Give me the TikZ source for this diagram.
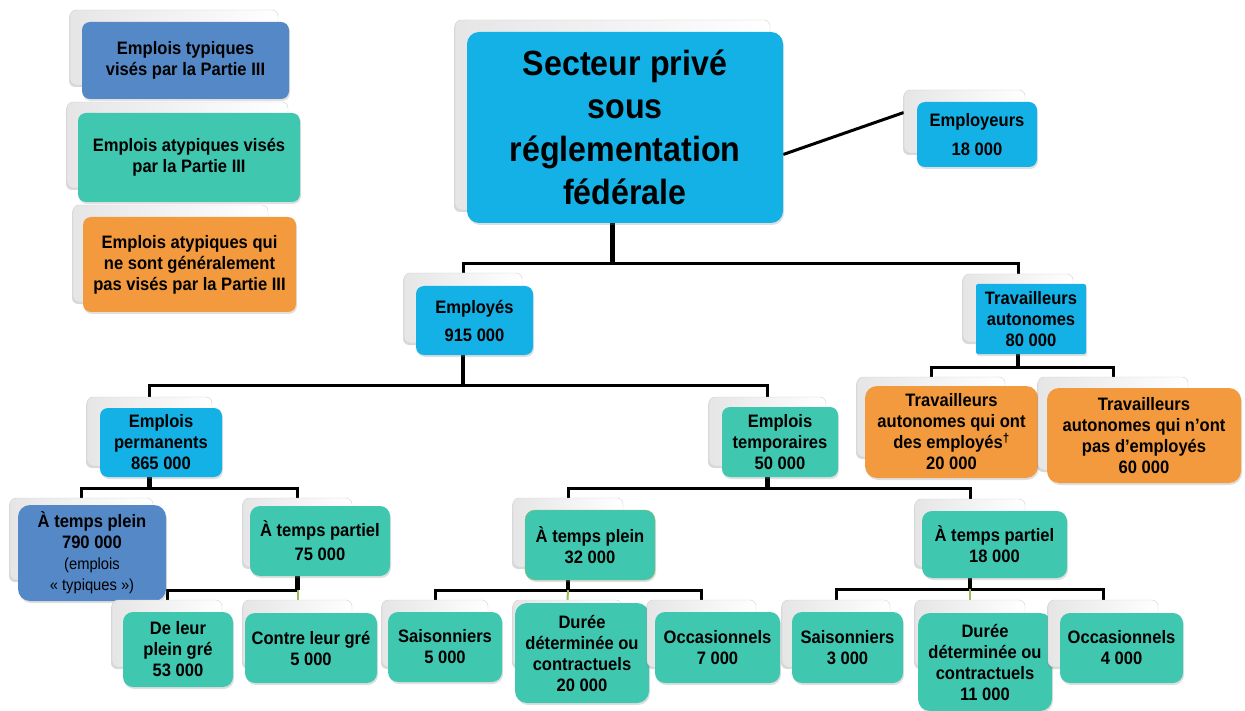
\documentclass[tikz,border=0pt]{standalone}
\usepackage{fontspec}
\setmainfont{Liberation Sans}[FakeStretch=0.92]
\usetikzlibrary{shadows,backgrounds}
\definecolor{cyanbox}{HTML}{14B1E7}
\definecolor{bluebox}{HTML}{5588C6}
\definecolor{tealbox}{HTML}{40C7B0}
\definecolor{orangebox}{HTML}{F29A3D}
\definecolor{stubgreen}{HTML}{9BBB59}
\newcommand{\smallreg}{\mdseries\fontsize{16}{18}\selectfont}
\begin{document}
\begin{tikzpicture}[x=1pt,y=-1pt,align=center]
\tikzstyle{back}=[rectangle,rounded corners=6pt,draw=black!18,left color=black!10,right color=white,drop shadow={opacity=0.3,shadow xshift=-1pt,shadow yshift=-2pt}]
\tikzstyle{card}=[rectangle,rounded corners=8pt,inner sep=2pt,font=\bfseries\fontsize{18}{21}\selectfont,drop shadow={opacity=0.25,shadow xshift=1pt,shadow yshift=-2pt}]
\tikzstyle{cyancard}=[card,fill=cyanbox]
\tikzstyle{bluecard}=[card,fill=bluebox]
\tikzstyle{tealcard}=[card,fill=tealbox]
\tikzstyle{orangecard}=[card,fill=orangebox]
\tikzstyle{link}=[line width=3pt]
\tikzstyle{drop}=[line width=4.5pt]
\tikzstyle{stub}=[line width=2pt,draw=stubgreen]

\useasboundingbox (0,0) rectangle (1245,711);

% legend
\node[back,minimum width=208,minimum height=75] (leg1B) at (174,47.5) {};
\node[bluecard,minimum width=207,minimum height=77] (leg1) at (185.5,60.5) {Emplois typiques\\visés par la Partie III};
\node[back,minimum width=221,minimum height=86] (leg2B) at (177.5,145) {};
\node[tealcard,minimum width=222,minimum height=89] (leg2) at (189,157.5) {Emplois atypiques visés\\par la Partie III};
\node[back,minimum width=195,minimum height=97] (leg3B) at (170.5,253.5) {};
\node[orangecard,minimum width=213,minimum height=95] (leg3) at (189.5,264.5) {Emplois atypiques qui\\ne sont généralement\\pas visés par la Partie III};

% top level
\node[back,minimum width=315,minimum height=190] (titleB) at (612.5,115) {};
\node[cyancard,rounded corners=12pt,minimum width=316,minimum height=191,font=\bfseries\fontsize{35}{43}\selectfont] (title) at (625,127.5) {Secteur privé\\sous\\réglementation\\fédérale};
\node[back,minimum width=121,minimum height=63] (eurB) at (964.5,121.5) {};
\node[cyancard,minimum width=120,minimum height=65] (eur) at (977,134.5) {Employeurs\\[8pt]18 000};

% second level
\node[back,minimum width=118,minimum height=70] (empB) at (463,308) {};
\node[cyancard,minimum width=117,minimum height=69] (emp) at (474.5,320.5) {Employés\\[7pt]915 000};
\node[back,minimum width=110,minimum height=68] (autB) at (1018,308) {};
\node[cyancard,rounded corners=2pt,minimum width=110,minimum height=70] (aut) at (1031,319) {Travailleurs\\autonomes\\80 000};

% employes
\node[back,minimum width=125,minimum height=69] (permB) at (149.5,431.5) {};
\node[cyancard,minimum width=122,minimum height=69] (perm) at (161,442.5) {Emplois\\permanents\\865 000};
\node[back,minimum width=117,minimum height=69] (tempB) at (767.5,431.5) {};
\node[tealcard,minimum width=116,minimum height=70] (temp) at (780,442) {Emplois\\temporaires\\50 000};

% travailleurs autonomes
\node[back,minimum width=148,minimum height=80] (avecB) at (931,417) {};
\node[orangecard,rounded corners=12pt,minimum width=173,minimum height=92] (avec) at (951.5,432) {Travailleurs\\autonomes qui ont\\des employés\textsuperscript{†}\\20 000};
\node[back,minimum width=150,minimum height=93] (sansB) at (1113,423.5) {};
\node[orangecard,rounded corners=12pt,minimum width=194,minimum height=95] (sans) at (1144,435.5) {Travailleurs\\autonomes qui n’ont\\pas d’employés\\60 000};

% permanents
\node[back,minimum width=143,minimum height=82] (plein1B) at (81.5,539) {};
\node[bluecard,rounded corners=12pt,minimum width=148,minimum height=96] (plein1) at (92,553) {À temps plein\\790 000\\\smallreg (emplois\\\smallreg « typiques »)};
\node[back,minimum width=109,minimum height=69] (partiel1B) at (297.5,532.5) {};
\node[tealcard,rounded corners=10pt,minimum width=140,minimum height=70] (partiel1) at (320,541) {À temps partiel\\[3pt]75 000};

% temporaires
\node[back,minimum width=110,minimum height=69] (plein2B) at (568,532.5) {};
\node[tealcard,draw=stubgreen,rounded corners=10pt,minimum width=130,minimum height=70] (plein2) at (590,545) {À temps plein\\32 000};
\node[back,minimum width=110,minimum height=68] (partiel2B) at (970,533) {};
\node[tealcard,rounded corners=10pt,minimum width=145,minimum height=67] (partiel2) at (994.5,544.5) {À temps partiel\\18 000};

% bottom row
\node[back,minimum width=110,minimum height=67] (greB) at (167,633.5) {};
\node[tealcard,rounded corners=10pt,minimum width=110,minimum height=75] (gre) at (178,649.5) {De leur\\plein gré\\53 000};
\node[back,minimum width=109,minimum height=67] (contreB) at (297.5,633.5) {};
\node[tealcard,rounded corners=10pt,minimum width=132,minimum height=70] (contre) at (311,648) {Contre leur gré\\5 000};
\node[back,minimum width=106,minimum height=67] (sais1B) at (435,633.5) {};
\node[tealcard,rounded corners=10pt,minimum width=114,minimum height=70] (sais1) at (445,647) {Saisonniers\\5 000};
\node[back,minimum width=109,minimum height=67] (duree1B) at (567.5,633.5) {};
\node[tealcard,rounded corners=12pt,minimum width=134,minimum height=100] (duree1) at (582,653) {Durée\\déterminée ou\\contractuels\\20 000};
\node[back,minimum width=109,minimum height=67] (occ1B) at (701.5,633.5) {};
\node[tealcard,rounded corners=10pt,minimum width=125,minimum height=71] (occ1) at (717.5,647.5) {Occasionnels\\7 000};
\node[back,minimum width=108,minimum height=67] (sais2B) at (836,633.5) {};
\node[tealcard,rounded corners=10pt,minimum width=111,minimum height=71] (sais2) at (847.5,647.5) {Saisonniers\\3 000};
\node[back,minimum width=110,minimum height=67] (duree2B) at (970,633.5) {};
\node[tealcard,rounded corners=12pt,minimum width=134,minimum height=98] (duree2) at (985,662) {Durée\\déterminée ou\\contractuels\\11 000};
\node[back,minimum width=110,minimum height=67] (occ2B) at (1103,633.5) {};
\node[tealcard,rounded corners=10pt,minimum width=123,minimum height=70] (occ2) at (1121.5,648) {Occasionnels\\4 000};

% connectors
\begin{scope}[on background layer]
\draw[drop] (titleB.south) -- ++(0,53) coordinate (j1);
\draw[link] (empB.north) |- (j1) -| (autB.north);
\draw[link] ([yshift=-27pt]title.east) -- ([yshift=9pt]eurB.west);
\draw[drop] (empB.south) -- ++(0,42) coordinate (j2);
\draw[link] (permB.north) |- (j2) -| (tempB.north);
\draw[drop] (autB.south) -- ++(0,25) coordinate (j3);
\draw[link] (avecB.north) |- (j3) -| (sansB.north);
\draw[drop] (permB.south) -- ++(0,22) coordinate (j4);
\draw[link] (plein1B.north) |- (j4) -| (partiel1B.north);
\draw[drop] (tempB.south) -- ++(0,22) coordinate (j5);
\draw[link] (plein2B.north) |- (j5) -| (partiel2B.north);
\draw[drop] (partiel1B.south) -- ++(0,23) coordinate (j6);
\draw[link] (greB.north) |- (j6);
\draw[stub] (j6) -- (contreB.north);
\draw[drop] (plein2B.south) -- ++(0,23) coordinate (j7);
\draw[link] (sais1B.north) |- (j7) -| (occ1B.north);
\draw[stub] (j7) -- (duree1B.north);
\draw[drop] (partiel2B.south) -- ++(0,22) coordinate (j8);
\draw[link] (sais2B.north) |- (j8) -| (occ2B.north);
\draw[stub] (j8) -- (duree2B.north);
\end{scope}
\end{tikzpicture}
\end{document}
